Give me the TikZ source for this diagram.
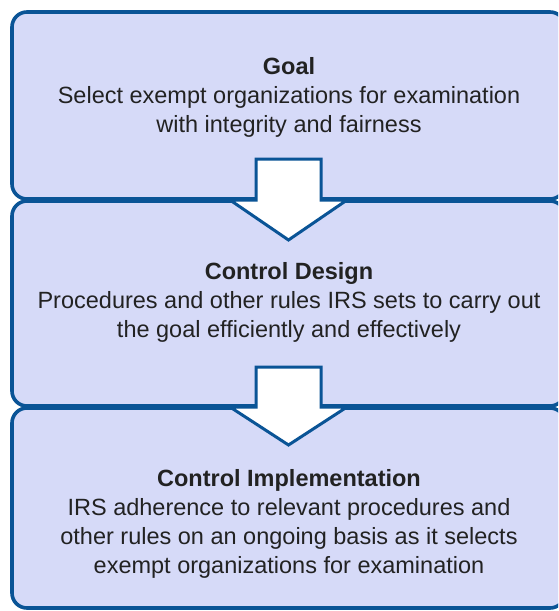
\documentclass[tikz,border=0pt]{standalone}
\usepackage{fontspec}
\setmainfont{Liberation Sans}
\usetikzlibrary{calc,shadows}
\definecolor{boxfill}{RGB}{214,218,248}
\definecolor{boxline}{RGB}{10,84,150}
\definecolor{txt}{RGB}{34,34,34}
\tikzset{
  stagebox/.style={draw=boxline, line width=3.6pt, fill=boxfill, rounded corners=15pt,
    minimum width=553pt, inner sep=0pt, outer sep=0pt,
    drop shadow={shadow xshift=-1.2pt, shadow yshift=-1.5pt, opacity=0.18}},
  stagetext/.style={text=txt, align=center, font=\fontsize{23.5}{29}\selectfont, inner sep=0pt},
  blockarrow/.style={draw=boxline, line width=3pt, fill=white, line join=miter}
}
\begin{document}
\begin{tikzpicture}[x=1pt,y=-1pt]
\useasboundingbox (0,0) rectangle (558,611);
\clip (0,0) rectangle (558,611);
\node[stagebox, minimum height=187pt] (b1) at (288.5,105.5) {};
\node[stagebox, minimum height=205pt] (b2) at (288.5,303.5) {};
\node[stagebox, minimum height=200pt] (b3) at (288.5,508) {};
% block arrows between stages
\draw[blockarrow] ($(b1.south)+(-32.5,-40)$) -- ($(b1.south)+(32.5,-40)$) -- ($(b1.south)+(32.5,1)$)
  -- ($(b1.south)+(58.5,1)$) -- ($(b1.south)+(0,41)$) -- ($(b1.south)+(-58.5,1)$)
  -- ($(b1.south)+(-32.5,1)$) -- cycle;
\draw[blockarrow] ($(b2.south)+(-32.5,-39)$) -- ($(b2.south)+(32.5,-39)$) -- ($(b2.south)+(32.5,1)$)
  -- ($(b2.south)+(58.5,1)$) -- ($(b2.south)+(0,39)$) -- ($(b2.south)+(-58.5,1)$)
  -- ($(b2.south)+(-32.5,1)$) -- cycle;
\node[stagetext] (t1) at (289,97) {\textbf{Goal}\\Select exempt organizations for examination\\with integrity and fairness};
\node[stagetext] (t2) at (289,302) {\textbf{Control Design}\\Procedures and other rules IRS sets to carry out\\the goal efficiently and effectively};
\node[stagetext] (t3) at (289,523.5) {\textbf{Control Implementation}\\IRS adherence to relevant procedures and\\other rules on an ongoing basis as it selects\\exempt organizations for examination};
\end{tikzpicture}
\end{document}
